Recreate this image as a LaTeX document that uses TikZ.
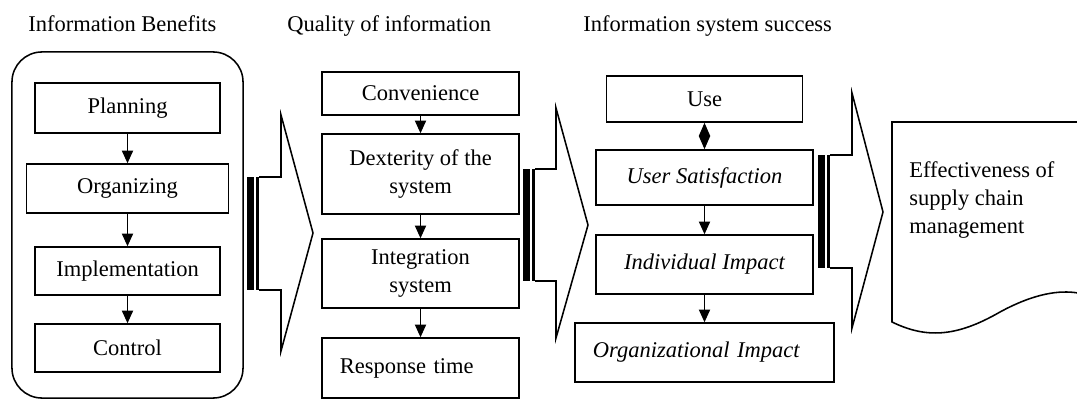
\documentclass[tikz,border=0pt]{standalone}
\usepackage{fontspec}
\setmainfont{Liberation Serif}
\usetikzlibrary{arrows.meta}

\tikzset{ISbox/.style={draw,line width=1.1pt,inner sep=0pt,align=center,font=\fontsize{16}{19.5}\selectfont},
         ISlbox/.style={ISbox,align=left,inner xsep=0.45cm},
         IStitle/.style={anchor=base west,inner sep=0pt,font=\fontsize{16}{19.5}\selectfont},
         ISarr/.style={line width=0.8pt,-{Triangle[width=8pt,length=9pt]}}}

\begin{document}
\begin{tikzpicture}[x=0.025cm,y=-0.025cm]
    \useasboundingbox (0,0) rectangle (1077,400);
    \node[IStitle] (tben) at (28,32) {Information Benefits};
    \node[IStitle] (tqual) at (287,32) {Quality of information};
    \node[IStitle] (tsucc) at (583,32) {Information system success};

    \node[draw,line width=1.1pt,rounded corners=0.75cm,minimum width=5.775cm,minimum height=8.65cm] (benefits) at (127.5,225) {};
    \node[ISbox,minimum width=4.625cm,minimum height=1.25cm] (plan) at (127.5,108) {Planning};
    \node[ISbox,minimum width=5.05cm,minimum height=1.225cm] (org) at (127.5,188.5) {Organizing};
    \node[ISbox,minimum width=4.625cm,minimum height=1.2cm] (impl) at (127.5,271) {Implementation};
    \node[ISbox,minimum width=4.625cm,minimum height=1.2cm] (ctrl) at (127.5,348) {Control};
    \draw[ISarr] (plan)--(org); \draw[ISarr] (org)--(impl); \draw[ISarr] (impl)--(ctrl);

    \node[ISbox,minimum width=4.925cm,minimum height=1.075cm] (conv) at (420.5,93.5) {Convenience};
    \node[ISbox,minimum width=4.925cm,minimum height=2cm] (dext) at (420.5,174) {Dexterity of the\\system};
    \node[ISbox,minimum width=4.925cm,minimum height=1.725cm] (integ) at (420.5,273.5) {Integration\\system};
    \node[ISlbox,text width=4.025cm,minimum height=1.5cm] (resp) at (420.5,368) {Response time};
    \draw[ISarr] (conv)--(dext); \draw[ISarr] (dext)--(integ); \draw[ISarr] (integ)--(resp);

    \node[ISbox,minimum width=4.9cm,minimum height=1.15cm] (use) at (704.5,99) {Use};
    \node[ISbox,minimum width=5.425cm,minimum height=1.375cm] (usat) at (704.5,177.5) {\itshape User Satisfaction};
    \node[ISbox,minimum width=5.425cm,minimum height=1.475cm] (indiv) at (704.5,264.5) {\itshape Individual Impact};
    \node[ISlbox,text width=5.575cm,minimum height=1.475cm] (orgimp) at (704.5,352.5) {\itshape Organizational Impact};
    \draw[line width=0.8pt,{Triangle[width=8pt,length=9.5pt]}-{Triangle[width=8pt,length=9.5pt]}] (use)--(usat);
    \draw[ISarr] (usat)--(indiv); \draw[ISarr] (indiv)--(orgimp);

    \foreach \xa/\xh/\ya/\yb/\ha/\hb/\tx/\ty in {247/281/177/290/115/351/313/233,
        523/556/169/281/108/338/588/225,818/852/155/268/93/328/883/212}
      {\fill (\xa,\ya) rectangle ({\xa+7},\yb); \fill ({\xa+9},\ya) rectangle ({\xa+12},\yb);
       \draw[line width=1.1pt] ({\xa+12},\ya) -- (\xh,\ya) -- (\xh,\ha) -- (\tx,\ty) -- (\xh,\hb) -- (\xh,\yb) -- ({\xa+12},\yb);}

    \draw[line width=1.1pt] (1078,122) -- (892,122) -- (892,322) .. controls (925,338) and (955,338) .. (1000,312)
      .. controls (1035,293) and (1060,290) .. (1078,293);
    \node[anchor=west,inner sep=0pt,align=left,font=\fontsize{16}{20.2}\selectfont] (scm) at (909,200) {Effectiveness of\\supply chain\\management};
  \end{tikzpicture}
\end{document}
